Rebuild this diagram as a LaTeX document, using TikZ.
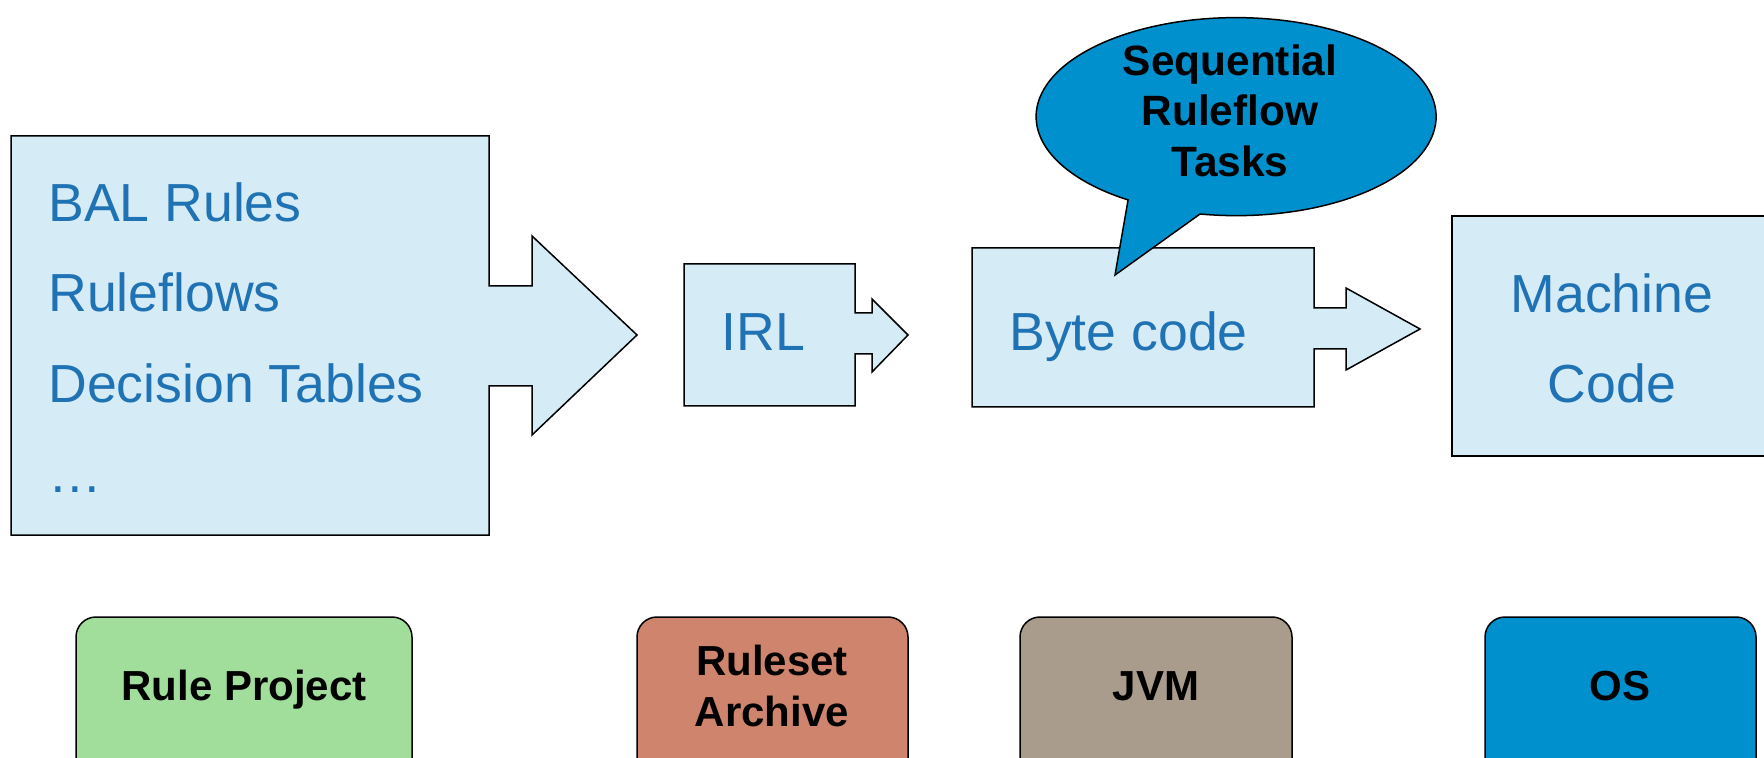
\documentclass[tikz,border=0pt]{standalone}
\usepackage{fontspec}
\setmainfont{Liberation Sans}
\definecolor{lightfill}{HTML}{D5EBF5}
\definecolor{txtblue}{HTML}{1F72B3}
\definecolor{calloutblue}{HTML}{0090CE}
\definecolor{projgreen}{HTML}{A1DD9B}
\definecolor{archsalmon}{HTML}{CF846D}
\definecolor{jvmgray}{HTML}{AA9C8D}
\definecolor{osblue}{HTML}{0090CE}
\tikzset{
  shapebox/.style={draw=black, line width=0.75pt, fill=lightfill, line join=miter},
  bluetxt/.style={text=txtblue, font=\fontsize{26.8pt}{30pt}\selectfont, inner sep=0pt},
  bubble/.style={draw=black, line width=0.75pt, fill=calloutblue},
  bubbletxt/.style={font=\bfseries\fontsize{21.2pt}{25pt}\selectfont, inner sep=0pt, align=center},
  tagbox/.style={draw=black, line width=0.75pt, rounded corners=10pt},
  tagtxt/.style={font=\bfseries\fontsize{21pt}{25pt}\selectfont, inner sep=0pt, align=center}
}
\begin{document}
\begin{tikzpicture}[x=0.5pt,y=-0.5pt]
\clip (0,0) rectangle (1764,758);
\fill[white] (0,0) rectangle (1764,758);
% left block arrow
\draw[shapebox] (11,136) -- (489,136) -- (489,286) -- (532,286) -- (532,236) -- (637,335)
  -- (532,435) -- (532,386) -- (489,386) -- (489,535) -- (11,535) -- cycle;
\node[bluetxt, anchor=base west] (bal) at (48,222) {BAL Rules};
\node[bluetxt, anchor=base west] (rf) at (48,312) {Ruleflows};
\node[bluetxt, anchor=base west] (dt) at (48,402) {Decision Tables};
\node[bluetxt, anchor=base west] (dots) at (48,492) {\dots};
% IRL
\draw[shapebox] (684,264) -- (855,264) -- (855,313) -- (872,313) -- (872,299) -- (908,335)
  -- (872,372) -- (872,354) -- (855,354) -- (855,406) -- (684,406) -- cycle;
\node[bluetxt, anchor=base west] (irl) at (721,351) {IRL};
% Byte code
\draw[shapebox] (972,248) -- (1314,248) -- (1314,308) -- (1346,308) -- (1346,288) -- (1420,329)
  -- (1346,370) -- (1346,349) -- (1314,349) -- (1314,407) -- (972,407) -- cycle;
\node[bluetxt, anchor=base west] (bc) at (1009,351) {Byte code};
% Machine code
\draw[shapebox] (1452,216) rectangle (1800,456);
\node[bluetxt, anchor=base] (mach) at (1612,313) {Machine};
\node[bluetxt, anchor=base] (code) at (1612,403) {Code};
% callout
\draw[bubble] (1200,214) arc[start angle=100.4, end angle=-237.3, x radius=200, y radius=99]
  -- (1115,275) -- cycle;
\node[bubbletxt, anchor=base] (seq) at (1230,76) {Sequential};
\node[bubbletxt, anchor=base] (rfl) at (1230,126) {Ruleflow};
\node[bubbletxt, anchor=base] (tsk) at (1230,177) {Tasks};
% bottom tags
\draw[tagbox, fill=projgreen] (76,617) rectangle (412,800);
\node[tagtxt, anchor=base] (rp) at (244,700) {Rule Project};
\draw[tagbox, fill=archsalmon] (637,617) rectangle (908,800);
\node[tagtxt, anchor=base] (ra1) at (772,675) {Ruleset};
\node[tagtxt, anchor=base] (ra2) at (772,726) {Archive};
\draw[tagbox, fill=jvmgray] (1020,617) rectangle (1292,800);
\node[tagtxt, anchor=base] (jvm) at (1156,700) {JVM};
\draw[tagbox, fill=osblue] (1485,617) rectangle (1756,800);
\node[tagtxt, anchor=base] (os) at (1620,700) {OS};
\end{tikzpicture}
\end{document}
